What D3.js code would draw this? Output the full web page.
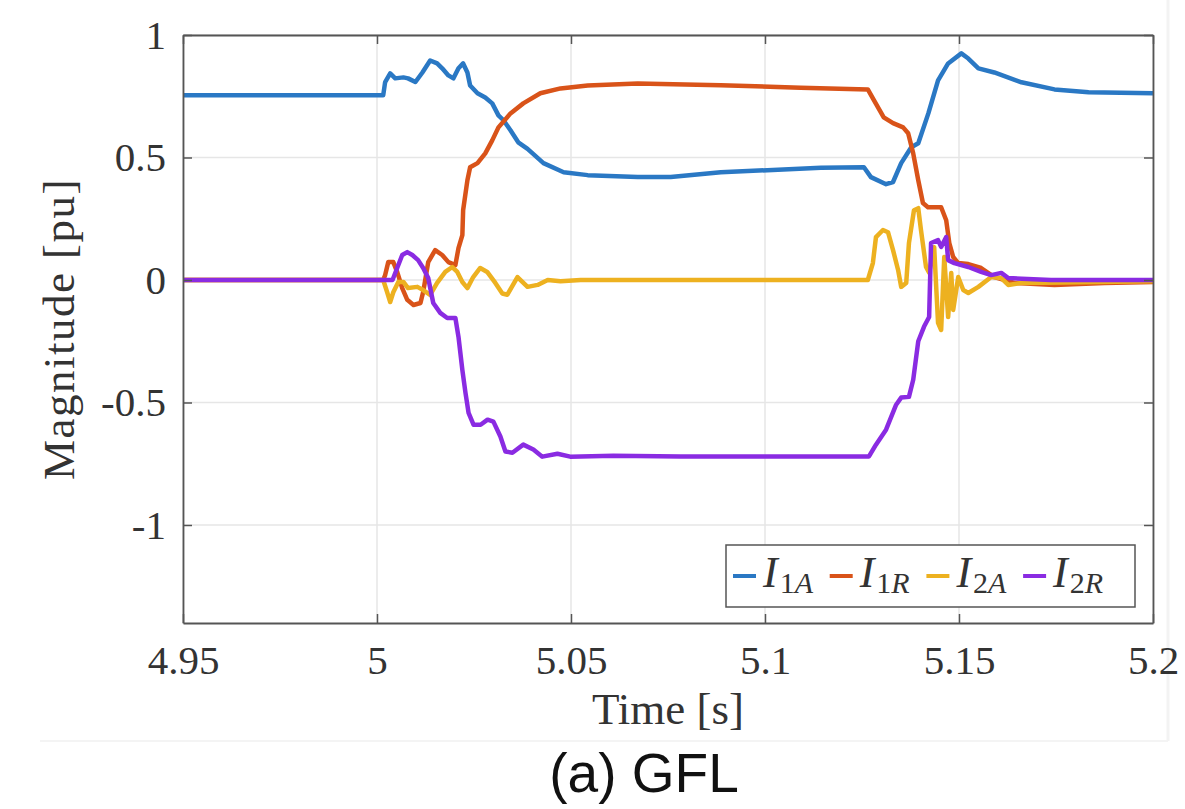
<!DOCTYPE html>
<html>
<head>
<meta charset="utf-8">
<title>GFL currents</title>
<script src="https://cdn.jsdelivr.net/npm/d3@7"></script>
<style>
  body { margin: 0; background: #fff; }
  .tick text { font-family: "Liberation Serif", "DejaVu Serif", serif; fill: #333; }
</style>
</head>
<body>
<script>
// time [s] and magnitude [pu]
const i1aT = [4.95, 5.0016, 5.0021, 5.0034, 5.0047, 5.0068, 5.0080, 5.0099, 5.0117, 5.0137, 5.0155, 5.0168, 5.0184, 5.0197, 5.0210, 5.0222, 5.0233, 5.0240, 5.0259, 5.0279, 5.0297, 5.0313, 5.0326, 5.0344, 5.0364, 5.0388, 5.0429, 5.0481, 5.0543, 5.0672, 5.0757, 5.0886, 5.1144, 5.1255, 5.1273, 5.1312, 5.1330, 5.1351, 5.1377, 5.1395, 5.1421, 5.1446, 5.1472, 5.1506, 5.1524, 5.1550, 5.1591, 5.1661, 5.1746, 5.1834, 5.2];
const i1aV = [0.754, 0.754, 0.808, 0.843, 0.823, 0.827, 0.823, 0.808, 0.847, 0.896, 0.884, 0.864, 0.835, 0.823, 0.864, 0.884, 0.847, 0.794, 0.762, 0.745, 0.721, 0.672, 0.652, 0.611, 0.562, 0.535, 0.477, 0.44, 0.428, 0.42, 0.42, 0.44, 0.458, 0.46, 0.42, 0.391, 0.40, 0.477, 0.542, 0.558, 0.68, 0.815, 0.884, 0.925, 0.904, 0.864, 0.847, 0.807, 0.778, 0.766, 0.762];

const i1rT = [4.95, 5.0016, 5.0021, 5.0029, 5.0042, 5.0052, 5.0065, 5.0078, 5.0094, 5.0112, 5.0119, 5.0132, 5.0150, 5.0168, 5.0184, 5.0202, 5.0210, 5.0220, 5.0222, 5.0233, 5.0240, 5.0259, 5.0279, 5.0297, 5.0313, 5.0344, 5.0377, 5.0421, 5.0473, 5.0543, 5.0672, 5.0886, 5.1092, 5.1265, 5.1281, 5.1306, 5.1330, 5.1356, 5.1369, 5.1382, 5.1395, 5.1407, 5.1420, 5.1454, 5.1467, 5.1475, 5.1485, 5.1498, 5.1524, 5.1557, 5.1591, 5.1643, 5.1746, 5.1875, 5.2];
const i1rV = [0, 0, 0.02, 0.073, 0.073, 0.033, -0.033, -0.081, -0.102, -0.094, -0.049, 0.073, 0.122, 0.102, 0.073, 0.061, 0.13, 0.183, 0.285, 0.407, 0.46, 0.477, 0.517, 0.57, 0.623, 0.68, 0.721, 0.762, 0.782, 0.794, 0.802, 0.795, 0.785, 0.778, 0.733, 0.664, 0.64, 0.623, 0.599, 0.517, 0.407, 0.314, 0.297, 0.297, 0.244, 0.151, 0.094, 0.069, 0.065, 0.049, 0.012, -0.012, -0.02, -0.012, -0.008];

const i2aT = [4.95, 5.0016, 5.0026, 5.0034, 5.0042, 5.0055, 5.0068, 5.0080, 5.0104, 5.0119, 5.0137, 5.0155, 5.0176, 5.0194, 5.0207, 5.0220, 5.0233, 5.0248, 5.0266, 5.0284, 5.0305, 5.0323, 5.0336, 5.0362, 5.0388, 5.0414, 5.0440, 5.0473, 5.0525, 5.1265, 5.1278, 5.1286, 5.1304, 5.1317, 5.1330, 5.1343, 5.1351, 5.1364, 5.1371, 5.1384, 5.1395, 5.1402, 5.1415, 5.1423, 5.1436, 5.1446, 5.1454, 5.1462, 5.1472, 5.1480, 5.1485, 5.1498, 5.1511, 5.1524, 5.1550, 5.1583, 5.1609, 5.1627, 5.1661, 5.1764, 5.2];
const i2aV = [0, 0, -0.049, -0.09, -0.05, -0.008, -0.008, -0.033, -0.028, -0.041, -0.061, -0.012, 0.033, 0.053, 0.033, -0.008, -0.033, 0.012, 0.049, 0.033, -0.012, -0.055, -0.06, 0.012, -0.028, -0.02, 0, -0.005, 0, 0, 0.069, 0.175, 0.204, 0.195, 0.122, 0.041, -0.028, -0.012, 0.151, 0.285, 0.293, 0.204, 0.053, 0.03, 0.134, -0.175, -0.204, 0.094, -0.151, 0.029, -0.122, 0.012, -0.041, -0.053, -0.028, 0.012, 0.008, -0.02, -0.012, -0.01, -0.005];

const i2rT = [4.95, 5.0040, 5.0052, 5.0065, 5.0078, 5.0091, 5.0106, 5.0119, 5.0132, 5.0145, 5.0163, 5.0181, 5.0202, 5.0210, 5.0220, 5.0228, 5.0236, 5.0249, 5.0267, 5.0285, 5.0300, 5.0318, 5.0331, 5.0349, 5.0377, 5.0403, 5.0426, 5.0465, 5.0498, 5.0609, 5.0782, 5.1268, 5.1286, 5.1312, 5.1338, 5.1351, 5.1371, 5.1382, 5.1395, 5.1410, 5.1423, 5.1428, 5.1446, 5.1454, 5.1467, 5.1472, 5.1488, 5.1524, 5.1557, 5.1583, 5.1609, 5.1627, 5.1737, 5.2];
const i2rV = [0, 0, 0.049, 0.102, 0.114, 0.102, 0.081, 0.049, 0.008, -0.094, -0.134, -0.155, -0.155, -0.232, -0.367, -0.46, -0.542, -0.591, -0.591, -0.57, -0.578, -0.639, -0.70, -0.705, -0.672, -0.692, -0.721, -0.709, -0.721, -0.717, -0.72, -0.72, -0.672, -0.611, -0.509, -0.48, -0.477, -0.407, -0.25, -0.19, -0.151, 0.151, 0.163, 0.135, 0.175, 0.081, 0.069, 0.053, 0.033, 0.02, 0.029, 0.008, 0, 0];

const seriesNames = ["1A", "1R", "2A", "2R"];
const seriesColors = ["#2a78c4", "#d95319", "#edb120", "#8a2be2"];
const xTicks = [4.95, 5, 5.05, 5.1, 5.15, 5.2];
const yTicks = [-1, -0.5, 0, 0.5, 1];

const W = 1185, H = 809;
const margin = {top: 35, right: 32, bottom: 186, left: 183};
const width = W - margin.left - margin.right,
      height = H - margin.top - margin.bottom;

const svg = d3.select("body").append("svg")
    .attr("width", W).attr("height", H)
    .style("display", "block");

svg.append("rect").attr("width", W).attr("height", H).attr("fill", "#fff");

// faint edge of the pasted figure
svg.append("line").attr("x1", 40).attr("x2", 1168).attr("y1", 741).attr("y2", 741)
    .attr("stroke", "#f0f0f0").attr("stroke-width", 1.5);
svg.append("line").attr("x1", 1168).attr("x2", 1168).attr("y1", 0).attr("y2", 741)
    .attr("stroke", "#f3f3f3").attr("stroke-width", 3);

const g = svg.append("g").attr("transform", "translate(" + margin.left + "," + margin.top + ")");

const x = d3.scaleLinear().domain([4.95, 5.2]).range([0, width]);
const y = d3.scaleLinear().domain([-1.4, 1]).range([height, 0]);

// grid
g.append("g").selectAll("line").data(xTicks).enter().append("line")
    .attr("x1", d => x(d)).attr("x2", d => x(d)).attr("y1", 0).attr("y2", height)
    .attr("stroke", "#e6e6e6").attr("stroke-width", 1.5);
g.append("g").selectAll("line").data(yTicks).enter().append("line")
    .attr("y1", d => y(d)).attr("y2", d => y(d)).attr("x1", 0).attr("x2", width)
    .attr("stroke", "#e6e6e6").attr("stroke-width", 1.5);

// curves
const line = d3.line().x(d => x(d[0])).y(d => y(d[1]));
const allT = [i1aT, i1rT, i2aT, i2rT];
const allV = [i1aV, i1rV, i2aV, i2rV];
allT.forEach((ts, k) => {
    const pts = ts.map((t, i) => [t, allV[k][i]]);
    g.append("path").datum(pts)
        .attr("d", line)
        .attr("fill", "none")
        .attr("stroke", seriesColors[k])
        .attr("stroke-width", 4.5)
        .attr("stroke-linejoin", "round");
});

// axes (ticks inward, box on all sides)
const fmt = d => String(d);
g.append("g").attr("transform", "translate(0," + height + ")")
    .call(d3.axisBottom(x).tickValues(xTicks).tickFormat(fmt).tickSizeInner(-9).tickSizeOuter(0).tickPadding(22))
    .call(a => a.selectAll("text").attr("font-size", 41).attr("dy", "0.71em"));
g.append("g")
    .call(d3.axisLeft(y).tickValues(yTicks).tickFormat(fmt).tickSizeInner(-9).tickSizeOuter(0).tickPadding(17))
    .call(a => a.selectAll("text").attr("font-size", 41));
g.append("g")
    .call(d3.axisTop(x).tickValues(xTicks).tickFormat("").tickSizeInner(-9).tickSizeOuter(0));
g.append("g").attr("transform", "translate(" + width + ",0)")
    .call(d3.axisRight(y).tickValues(yTicks).tickFormat("").tickSizeInner(-9).tickSizeOuter(0));
g.selectAll(".domain").attr("stroke", "#555").attr("stroke-width", 1.8);
g.selectAll(".tick line").attr("stroke", "#555").attr("stroke-width", 1.5);

// axis labels
svg.append("text")
    .attr("x", 668).attr("y", 724)
    .attr("text-anchor", "middle")
    .attr("font-family", "Liberation Serif, serif").attr("font-size", 45).attr("fill", "#333")
    .text("Time [s]");
svg.append("text")
    .attr("transform", "translate(74," + (margin.top + height / 2) + ") rotate(-90)")
    .attr("text-anchor", "middle")
    .attr("font-family", "Liberation Serif, serif").attr("font-size", 45).attr("fill", "#333")
    .attr("letter-spacing", 1.5)
    .text("Magnitude [pu]");

// legend
const lg = svg.append("g").attr("transform", "translate(726,545)");
lg.append("rect").attr("width", 409).attr("height", 62)
    .attr("fill", "#fff").attr("stroke", "#555").attr("stroke-width", 1.5);
const entry = lg.selectAll(".entry").data(seriesNames).enter().append("g")
    .attr("transform", (d, i) => "translate(" + (7 + i * 96.7) + ",0)");
entry.append("line").attr("x1", 0).attr("x2", 23).attr("y1", 31).attr("y2", 31)
    .attr("stroke", (d, i) => seriesColors[i]).attr("stroke-width", 4);
const lt = entry.append("text").attr("x", 30).attr("y", 42)
    .attr("font-family", "Liberation Serif, serif").attr("fill", "#333");
lt.append("tspan").attr("font-size", 44).attr("font-style", "italic").text("I");
lt.append("tspan").attr("font-size", 30).attr("dx", 2).attr("dy", 6).text(d => d[0]);
lt.append("tspan").attr("font-size", 30).attr("font-style", "italic").text(d => d[1]);

// caption
svg.append("text")
    .attr("x", 644).attr("y", 792)
    .attr("text-anchor", "middle")
    .attr("font-family", "Liberation Sans, Arial, sans-serif").attr("font-size", 55).attr("fill", "#111")
    .text("(a) GFL");
</script>
</body>
</html>
